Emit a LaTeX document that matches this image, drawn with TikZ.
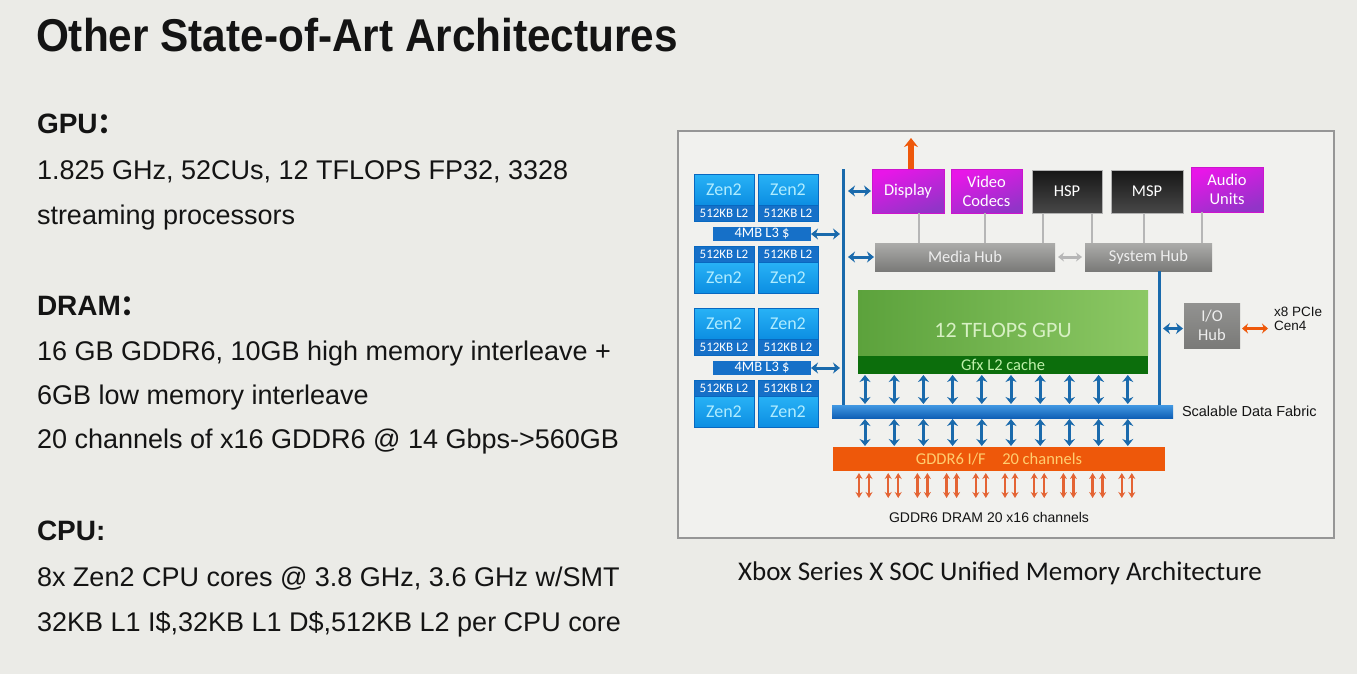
\documentclass[tikz,border=0pt]{standalone}
\usepackage{fontspec}
\setmainfont{Liberation Sans}
\newfontfamily\titlefont[FakeStretch=0.92]{Liberation Sans}
\newfontfamily\boxfont{Carlito}
\newfontfamily\cjk{Noto Sans CJK SC}
\usetikzlibrary{positioning,calc,arrows.meta}

\definecolor{slidebg}{RGB}{235,235,231}
\definecolor{framebg}{RGB}{241,241,238}
\definecolor{frameedge}{RGB}{150,150,150}
\definecolor{ink}{RGB}{20,20,20}
\definecolor{zentop}{RGB}{40,178,246}
\definecolor{zenbot}{RGB}{12,142,226}
\definecolor{zenedge}{RGB}{8,104,192}
\definecolor{zentext}{RGB}{175,236,255}
\definecolor{cacheblue}{RGB}{22,112,200}
\definecolor{arrowblue}{RGB}{26,106,172}
\definecolor{mediatop}{RGB}{232,22,232}
\definecolor{mediabot}{RGB}{146,52,200}
\definecolor{mediaedge}{RGB}{205,20,205}
\definecolor{dsptop}{RGB}{22,22,22}
\definecolor{dspbot}{RGB}{72,72,72}
\definecolor{hubtop}{RGB}{172,172,170}
\definecolor{hubbot}{RGB}{122,122,120}
\definecolor{hubtext}{RGB}{238,238,238}
\definecolor{hubline}{RGB}{182,182,182}
\definecolor{gpuleft}{RGB}{92,162,60}
\definecolor{gpumid}{RGB}{56,136,26}
\definecolor{gpuright}{RGB}{140,200,100}
\definecolor{gputext}{RGB}{215,240,195}
\definecolor{gfxgreen}{RGB}{12,110,12}
\definecolor{gfxtext}{RGB}{190,240,170}
\definecolor{fabrictop}{RGB}{66,152,226}
\definecolor{fabricbot}{RGB}{16,96,182}
\definecolor{ddrorange}{RGB}{238,88,10}
\definecolor{ddrtext}{RGB}{255,206,112}
\definecolor{pinorange}{RGB}{228,100,52}

\begin{document}
\begin{tikzpicture}[
    x=1pt, y=-1pt,
    every node/.style={inner sep=0pt, outer sep=0pt},
    head/.style={anchor=base west, text=ink, font=\fontsize{28}{32}\selectfont\bfseries},
    body/.style={anchor=base west, text=ink, font=\fontsize{27}{32}\selectfont},
    block/.style={anchor=north west, align=center, font=\boxfont\fontsize{16.5}{19}\selectfont},
    zen/.style={block, draw=zenedge, line width=0.8pt, top color=zentop, bottom color=zenbot,
        text=zentext, minimum width=60, minimum height=31, font=\boxfont\fontsize{18}{18}\selectfont},
    ltwo/.style={block, draw=zenedge, line width=0.8pt, fill=cacheblue, text=white,
        minimum width=60, minimum height=16, font=\boxfont\fontsize{13}{14}\selectfont},
    lthree/.style={block, fill=cacheblue, text=white, minimum width=98, minimum height=14,
        font=\boxfont\fontsize{14.5}{15}\selectfont},
    media/.style={block, draw=mediaedge, line width=0.8pt, top color=mediatop, bottom color=mediabot,
        shading angle=20, text=white, minimum height=44},
    dsp/.style={block, draw=gray!60, line width=0.6pt, top color=dsptop, bottom color=dspbot,
        text=white, minimum height=43},
    hub/.style={block, top color=hubtop, bottom color=hubbot, text=hubtext, minimum height=28},
    label/.style={text=ink, font=\fontsize{14.5}{15}\selectfont},
    bus/.style={draw=arrowblue, line width=3pt},
    bluearrow/.style={{Stealth[length=7pt,width=11pt]}-{Stealth[length=7pt,width=11pt]},
        draw=arrowblue, line width=3pt, shorten <=1pt, shorten >=1pt},
    pinarrow/.style={{Stealth[length=6pt,width=7pt]}-{Stealth[length=6pt,width=7pt]},
        draw=pinorange, line width=2.5pt},
    hubwire/.style={draw=hubline, line width=2pt}
    ]
    \fill[slidebg] (0,0) rectangle (1357,674);
    \useasboundingbox (0,0) rectangle (1357,674);

    % slide text
    \node[anchor=base west, text=ink, font=\titlefont\bfseries\fontsize{46}{50}\selectfont] (title) at (36,52) {Other State-of-Art Architectures};
    \node[head] (gpuhead) at (37,134) {GPU{\cjk ：}};
    \node[body] (gpua) at (37,179) {1.825 GHz, 52CUs, 12 TFLOPS FP32, 3328};
    \node[body] (gpub) at (37,224) {streaming processors};
    \node[head] (dramhead) at (37,315) {DRAM{\cjk ：}};
    \node[body] (drama) at (37,360) {16 GB GDDR6, 10GB high memory interleave +};
    \node[body] (dramb) at (37,404) {6GB low memory interleave};
    \node[body] (dramc) at (37,448) {20 channels of x16 GDDR6 @ 14 Gbps->560GB};
    \node[head] (cpuhead) at (37,540) {CPU:};
    \node[body] (cpua) at (37,586) {8x Zen2 CPU cores @ 3.8 GHz, 3.6 GHz w/SMT};
    \node[body] (cpub) at (37,631) {32KB L1 I\$,32KB L1 D\$,512KB L2 per CPU core};

    % SoC block diagram
    \node[anchor=north west, draw=frameedge, line width=1.2pt, fill=framebg, minimum width=656, minimum height=407] (soc) at (678,131) {};
    \node[anchor=base, text=ink, font=\boxfont\fontsize{27}{29}\selectfont] (caption) at (1000,580) {Xbox Series X SOC Unified Memory Architecture};

    % CPU clusters
    \foreach \g/\gy in {a/174, b/308} {
        \node[zen] (zen\g1) at (694,\gy) {Zen2};
        \node[zen] (zen\g2) at (758,\gy) {Zen2};
        \node[ltwo, below=0pt of zen\g1] (ltwo\g1) {512KB L2};
        \node[ltwo, below=0pt of zen\g2] (ltwo\g2) {512KB L2};
        \node[lthree] (lthree\g) at (713,\gy+53) {4MB L3 \$};
        \node[ltwo] (ltwo\g3) at (694,\gy+72) {512KB L2};
        \node[ltwo] (ltwo\g4) at (758,\gy+72) {512KB L2};
        \node[zen, below=0pt of ltwo\g3] (zen\g3) {Zen2};
        \node[zen, below=0pt of ltwo\g4] (zen\g4) {Zen2};
    }

    % media and system blocks
    \node[media, minimum width=72] (display) at (872,169) {Display};
    \node[media, minimum width=71] (video) at (951,169) {Video\\Codecs};
    \node[dsp, minimum width=70] (hsp) at (1032,170) {HSP};
    \node[dsp, minimum width=72] (msp) at (1111,170) {MSP};
    \node[media, minimum width=72, minimum height=45] (audio) at (1191,167) {Audio\\Units};
    \node[hub, minimum width=180] (mediahub) at (875,243) {Media Hub};
    \node[hub, minimum width=127] (syshub) at (1085,243) {System Hub};
    \node[hub, minimum width=56, minimum height=45, top color=hubtop!85!black] (iohub) at (1184,303) {I/O\\Hub};

    % GPU, fabric and memory interface
    \node[block, left color=gpuleft, middle color=gpumid, right color=gpuright, minimum width=290, minimum height=65] (gpu) at (858,290) {};
    \node[text=gputext, font=\boxfont\fontsize{22}{24}\selectfont] (gpulabel) at ([yshift=-8pt]gpu.center) {12 TFLOPS GPU};
    \node[block, fill=gfxgreen, text=gfxtext, minimum width=290, minimum height=18, below=1pt of gpu] (gfx) {Gfx L2 cache};
    \node[block, top color=fabrictop, bottom color=fabricbot, minimum width=341, minimum height=13] (fabric) at (832,405) {};
    \node[block, fill=ddrorange, text=ddrtext, minimum width=332, minimum height=24] (gddr) at (833,447) {GDDR6 I/F\quad 20 channels};

    \node[label, anchor=west] (sdf) at (1182,411) {Scalable Data Fabric};
    \node[label, anchor=west, align=left, font=\fontsize{13.5}{14}\selectfont] (pcie) at (1274,319) {x8 PCIe\\Cen4};
    \node[label, font=\fontsize{14}{15}\selectfont] (dram) at (989,517) {GDDR6 DRAM 20 x16 channels};

    % buses
    \coordinate (bustop) at (843,169);
    \draw[bus] (bustop) -- (fabric.north -| bustop);
    \coordinate (iobus) at (1159,0);
    \draw[bus] (syshub.south -| iobus) -- (fabric.north -| iobus);

    \foreach \g in {a, b}
        \draw[bluearrow, shorten <=0pt, shorten >=3pt] (lthree\g.east) -- (lthree\g.east -| bustop);
    \draw[bluearrow, shorten <=5pt] (display.west -| bustop) -- (display.west);
    \draw[bluearrow, shorten <=5pt] (mediahub.west -| bustop) -- (mediahub.west);
    \draw[bluearrow, line width=2.2pt, shorten <=4pt] ([yshift=-3pt]iohub.west -| iobus) -- ([yshift=-3pt]iohub.west);

    % hub wiring
    \coordinate (dispout) at (911,138);
    \draw[-{Stealth[length=9pt,width=14pt]}, draw=ddrorange, line width=6pt] ([xshift=3pt]display.north) -- (dispout);
    \coordinate (wdisp) at ([xshift=11pt]display.south);
    \coordinate (whspl) at ([xshift=-24pt]hsp.south);
    \coordinate (whspr) at ([xshift=25pt]hsp.south);
    \coordinate (waudio) at ([xshift=-25pt]audio.south);
    \draw[hubwire] (wdisp) -- (wdisp |- mediahub.north);
    \draw[hubwire] ([xshift=-2pt]video.south) -- ([xshift=-2pt]video.south |- mediahub.north);
    \draw[hubwire] (whspl) -- (whspl |- mediahub.north);
    \draw[hubwire] (whspr) -- (whspr |- syshub.north);
    \draw[hubwire] ([xshift=-3pt]msp.south) -- ([xshift=-3pt]msp.south |- syshub.north);
    \draw[hubwire] (waudio) -- (waudio |- syshub.north);
    \draw[{Stealth[length=6pt,width=9pt]}-{Stealth[length=6pt,width=9pt]}, draw=hubline, line width=3pt, shorten <=3pt, shorten >=3pt] (mediahub.east) -- (syshub.west);
    \draw[{Stealth[length=6pt,width=10pt]}-{Stealth[length=6pt,width=10pt]}, draw=ddrorange, line width=3.5pt, shorten <=2pt, shorten >=6pt] ([yshift=-3pt]iohub.east) -- ([yshift=-3pt]iohub.east -| pcie.west);

    % memory lanes
    \coordinate (pinbottom) at (0,498);
    \foreach \i in {0,...,9} {
        \coordinate (lane\i) at ({865+29.2*\i},0);
        \coordinate (pinl\i) at ({859+29.2*\i},0);
        \coordinate (pinr\i) at ({869+29.2*\i},0);
        \draw[bluearrow] (gfx.south -| lane\i) -- (fabric.north -| lane\i);
        \draw[bluearrow] (fabric.south -| lane\i) -- (gddr.north -| lane\i);
        \draw[pinarrow, shorten <=2pt] (gddr.south -| pinl\i) -- (pinbottom -| pinl\i);
        \draw[pinarrow, shorten <=2pt] (gddr.south -| pinr\i) -- (pinbottom -| pinr\i);
    }
\end{tikzpicture}
\end{document}
